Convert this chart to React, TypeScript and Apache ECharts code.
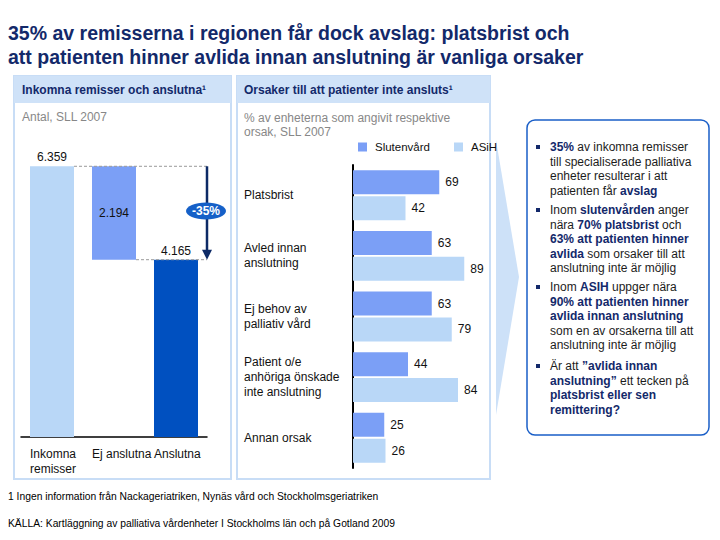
import React, { useEffect, useRef } from 'react';
import * as echarts from 'echarts';

// ---- data ----
const waterfallCategories = ['Inkomna\nremisser', 'Ej anslutna', 'Anslutna'];
const waterfallValues = [6359, 2194, 4165];
const waterfallBase = [0, 4165, 0];
const waterfallColors = ['#b9d7f7', '#7b9ff6', '#0050c0'];

const reasonCategories = [
  'Platsbrist',
  'Avled innan\nanslutning',
  'Ej behov av\npalliativ vård',
  'Patient o/e\nanhöriga önskade\ninte anslutning',
  'Annan orsak',
];
const seriesNames = ['Slutenvård', 'ASiH'];
const slutenvard = [69, 63, 63, 44, 25];
const asih = [42, 89, 79, 84, 26];

const titleLines = [
  '35% av remisserna i regionen får dock avslag: platsbrist och',
  'att patienten hinner avlida innan anslutning är vanliga orsaker',
];
const bullets = [
  '{b|35%} av inkomna remisser\ntill specialiserade palliativa\nenheter resulterar i att\npatienten får {b|avslag}',
  'Inom {b|slutenvården} anger\nnära {b|70% platsbrist} och\n{b|63% att patienten hinner}\n{b|avlida} som orsaker till att\nanslutning inte är möjlig',
  'Inom {b|ASIH} uppger nära\n{b|90% att patienten hinner}\n{b|avlida innan anslutning}\nsom en av orsakerna till att\nanslutning inte är möjlig',
  'Är att {b|”avlida innan}\n{b|anslutning”} ett tecken på\n{b|platsbrist eller sen}\n{b|remittering?}',
];
const footnote = '1 Ingen information från Nackageriatriken, Nynäs vård och Stockholmsgeriatriken';
const source = 'KÄLLA: Kartläggning av palliativa vårdenheter I Stockholms län och på Gotland 2009';

const FONT = "'Liberation Sans', Arial, sans-serif";
const NAVY = '#13296a';
const BAR_W = 44;

const fmt = (v: number) => String(v).replace(/\B(?=(\d{3})+(?!\d))/g, '.');

export default function App() {
  const ref = useRef<HTMLDivElement>(null);
  useEffect(() => {
    if (!ref.current) return;
    const chart = echarts.init(ref.current, undefined, { renderer: 'svg' });

    const bulletTops = [140, 203, 280, 359];
    const graphic: any[] = [
      // title
      {
        type: 'text', x: 8, y: 21, z: 10,
        style: { text: titleLines.join('\n'), fontFamily: FONT, fontSize: 19.5, fontWeight: 'bold', fill: NAVY, lineHeight: 24, verticalAlign: 'top' },
      },
      // left panel
      { type: 'rect', z: 0, shape: { x: 14, y: 76, width: 217, height: 403 }, style: { fill: '#fff', stroke: '#c8ddf6', lineWidth: 2 } },
      { type: 'rect', z: 0, shape: { x: 14, y: 76, width: 217, height: 27 }, style: { fill: '#cfe2f8' } },
      { type: 'text', z: 10, x: 22, y: 90, style: { text: 'Inkomna remisser och anslutna¹', fontFamily: FONT, fontSize: 12, fontWeight: 'bold', fill: NAVY, verticalAlign: 'middle' } },
      { type: 'text', z: 10, x: 22, y: 117, style: { text: 'Antal, SLL 2007', fontFamily: FONT, fontSize: 12, fill: '#878787', verticalAlign: 'middle' } },
      // middle panel
      { type: 'rect', z: 0, shape: { x: 237, y: 76, width: 253, height: 403 }, style: { fill: '#fff', stroke: '#c8ddf6', lineWidth: 2 } },
      { type: 'rect', z: 0, shape: { x: 237, y: 76, width: 253, height: 27 }, style: { fill: '#cfe2f8' } },
      { type: 'text', z: 10, x: 244, y: 90, style: { text: 'Orsaker till att patienter inte ansluts¹', fontFamily: FONT, fontSize: 12, fontWeight: 'bold', fill: NAVY, verticalAlign: 'middle' } },
      { type: 'text', z: 10, x: 244, y: 111, style: { text: '% av enheterna som angivit respektive\norsak, SLL 2007', fontFamily: FONT, fontSize: 12, lineHeight: 14, fill: '#878787', verticalAlign: 'top' } },
      // chevron
      { type: 'polygon', z: 0, shape: { points: [[496, 140], [519, 277], [496, 415]] }, style: { fill: '#cde1f8' } },
      // text box
      { type: 'rect', z: 0, shape: { x: 527, y: 120, width: 182, height: 315, r: 8 }, style: { fill: '#fff', stroke: '#1a5fc8', lineWidth: 1.5 } },
      // footnotes
      { type: 'text', z: 10, x: 8, y: 496, style: { text: footnote, fontFamily: FONT, fontSize: 10.3, fill: '#000', verticalAlign: 'middle' } },
      { type: 'text', z: 10, x: 8, y: 523, style: { text: source, fontFamily: FONT, fontSize: 10.3, fill: '#000', verticalAlign: 'middle' } },
    ];
    bullets.forEach((b, i) => {
      graphic.push({ type: 'rect', z: 10, shape: { x: 536, y: bulletTops[i] + 5, width: 4, height: 4 }, style: { fill: NAVY } });
      graphic.push({
        type: 'text', z: 10, x: 550, y: bulletTops[i],
        style: {
          text: b, fontFamily: FONT, fontSize: 12, fill: '#1c1c1c', lineHeight: 14.5, verticalAlign: 'top',
          rich: { b: { fontFamily: FONT, fontSize: 12, fontWeight: 'bold', fill: NAVY, lineHeight: 14.5 } },
        },
      });
    });

    const option: any = {
      animation: false,
      textStyle: { fontFamily: FONT },
      graphic,
      legend: {
        data: seriesNames,
        left: 358, top: 141, padding: 0,
        itemWidth: 9, itemHeight: 9, itemGap: 24,
        icon: 'rect',
        textStyle: { fontSize: 11.5, color: '#111', padding: [0, 0, 0, 3] },
      },
      grid: [
        { left: 21, top: 139, width: 186, height: 298 },
        { left: 353, top: 165, width: 125, height: 303 },
      ],
      xAxis: [
        {
          type: 'category', gridIndex: 0, data: waterfallCategories,
          axisLine: { lineStyle: { color: '#000', width: 1.5 } },
          axisTick: { show: false },
          axisLabel: {
            interval: 0, margin: 9,
            formatter: (v: string) => v.split('\n').map((s) => `{a|${s}}`).join('\n'),
            rich: { a: { width: BAR_W, align: 'left', fontSize: 12, lineHeight: 15, color: '#111', fontFamily: FONT } },
          },
        },
        { type: 'value', gridIndex: 1, min: 0, max: 100, show: false },
      ],
      yAxis: [
        { type: 'value', gridIndex: 0, min: 0, max: 7000, show: false },
        {
          type: 'category', gridIndex: 1, data: reasonCategories, inverse: true,
          axisLine: { lineStyle: { color: '#000', width: 2 } },
          axisTick: { show: false },
          axisLabel: { align: 'left', margin: 109, fontSize: 12, lineHeight: 15, color: '#111' },
        },
      ],
      series: [
        {
          type: 'bar', xAxisIndex: 0, yAxisIndex: 0, stack: 'w', barWidth: BAR_W, silent: true,
          itemStyle: { color: 'transparent' }, data: waterfallBase,
        },
        {
          type: 'bar', xAxisIndex: 0, yAxisIndex: 0, stack: 'w', barWidth: BAR_W,
          data: waterfallValues.map((v, i) => ({
            value: v,
            itemStyle: { color: waterfallColors[i] },
            label: { show: true, position: i === 1 ? 'inside' : 'top', distance: 3, formatter: fmt(v), fontSize: 12, color: '#111' },
          })),
        },
        {
          type: 'custom', xAxisIndex: 0, yAxisIndex: 0, z: 5,
          data: [[0, 0]],
          renderItem: (params: any, api: any) => {
            const top = api.coord([0, waterfallValues[0]]);
            const bot = api.coord([1, waterfallBase[1]]);
            const cs = params.coordSys;
            const xEnd = cs.x + cs.width;
            const half = BAR_W / 2;
            const pct = Math.round((1 - waterfallValues[2] / waterfallValues[0]) * 100);
            const midY = (top[1] + bot[1]) / 2 - 2;
            const dash = { stroke: '#9a9a9a', lineWidth: 1, lineDash: [3, 2] };
            return {
              type: 'group',
              children: [
                { type: 'line', shape: { x1: top[0] + half, y1: top[1], x2: xEnd, y2: top[1] }, style: dash },
                { type: 'line', shape: { x1: bot[0] + half, y1: bot[1], x2: xEnd, y2: bot[1] }, style: dash },
                { type: 'line', shape: { x1: xEnd, y1: top[1], x2: xEnd, y2: bot[1] - 9 }, style: { stroke: '#0d2a66', lineWidth: 2.5 } },
                { type: 'polygon', shape: { points: [[xEnd - 5, bot[1] - 10], [xEnd + 5, bot[1] - 10], [xEnd, bot[1]]] }, style: { fill: '#0d2a66' } },
                { type: 'ellipse', shape: { cx: xEnd - 1, cy: midY, rx: 20, ry: 8.5 }, style: { fill: '#1560c8' } },
                { type: 'text', x: xEnd - 1, y: midY, style: { text: `-${pct}%`, fill: '#fff', fontFamily: FONT, fontSize: 12, fontWeight: 'bold', align: 'center', verticalAlign: 'middle' } },
              ],
            };
          },
        },
        {
          name: seriesNames[0], type: 'bar', xAxisIndex: 1, yAxisIndex: 1, barWidth: 24, barGap: '8%',
          itemStyle: { color: '#7b9ff6' },
          label: { show: true, position: 'right', distance: 6, fontSize: 12, color: '#111' },
          data: slutenvard,
        },
        {
          name: seriesNames[1], type: 'bar', xAxisIndex: 1, yAxisIndex: 1, barWidth: 24, barGap: '8%',
          itemStyle: { color: '#b9d7f7' },
          label: { show: true, position: 'right', distance: 6, fontSize: 12, color: '#111' },
          data: asih,
        },
      ],
    };
    chart.setOption(option);
    return () => chart.dispose();
  }, []);
  return <div ref={ref} style={{ position: 'absolute', left: 0, top: 0, width: 720, height: 540, background: '#fff' }} />;
}
